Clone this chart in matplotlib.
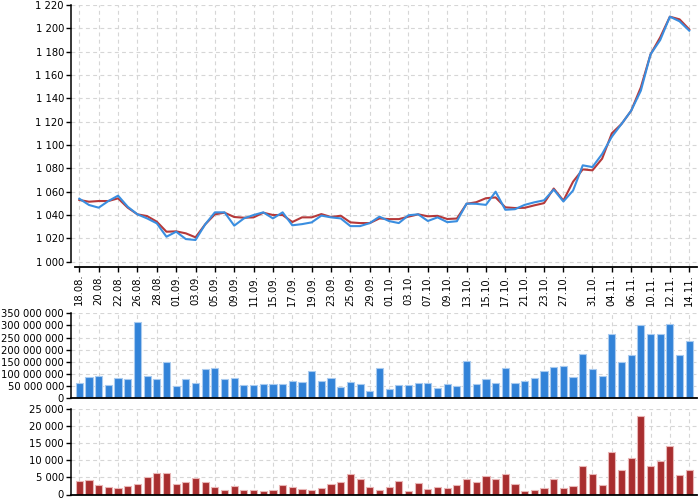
import numpy as np
import matplotlib
matplotlib.use("Agg")
import matplotlib.pyplot as plt
from matplotlib.ticker import FuncFormatter

# Trading days shown on the chart (one day between 27.10 and 31.10 is absent).
dates = [
    "18.08.", "19.08.", "20.08.", "21.08.", "22.08.", "25.08.", "26.08.", "27.08.", "28.08.", "29.08.",
    "01.09.", "02.09.", "03.09.", "04.09.", "05.09.", "08.09.", "09.09.", "10.09.", "11.09.", "12.09.",
    "15.09.", "16.09.", "17.09.", "18.09.", "19.09.", "22.09.", "23.09.", "24.09.", "25.09.", "26.09.",
    "29.09.", "30.09.", "01.10.", "02.10.", "03.10.", "06.10.", "07.10.", "08.10.", "09.10.", "10.10.",
    "13.10.", "14.10.", "15.10.", "16.10.", "17.10.", "20.10.", "21.10.", "22.10.", "23.10.", "24.10.",
    "27.10.", "28.10.", "30.10.", "31.10.", "03.11.", "04.11.", "05.11.", "06.11.", "07.11.", "10.11.",
    "11.11.", "12.11.", "13.11.", "14.11."
]

tickLabels = [
    "18.08.", "20.08.", "22.08.", "26.08.", "28.08.", "01.09.", "03.09.", "05.09.", "09.09.", "11.09.",
    "15.09.", "17.09.", "19.09.", "23.09.", "25.09.", "29.09.", "01.10.", "03.10.", "07.10.", "09.10.",
    "13.10.", "15.10.", "17.10.", "21.10.", "23.10.", "27.10.", "31.10.", "04.11.", "06.11.", "10.11.",
    "12.11.", "14.11."
]

# Blue line.
priceBlue = [
    1054.0, 1048.6, 1046.3, 1052.0, 1056.6, 1047.1, 1040.6, 1037.1, 1032.9, 1021.4,
    1025.7, 1019.4, 1018.6, 1032.0, 1042.3, 1042.3, 1030.9, 1037.1, 1040.0, 1042.3,
    1037.1, 1042.3, 1031.2, 1032.2, 1033.7, 1039.5, 1038.0, 1037.1, 1030.5, 1030.5,
    1033.1, 1038.6, 1034.8, 1033.1, 1039.8, 1040.6, 1034.9, 1038.0, 1033.9, 1034.7,
    1049.8, 1049.6, 1048.7, 1060.0, 1044.5, 1045.0, 1048.7, 1050.9, 1052.6, 1061.8,
    1051.6, 1061.0, 1082.6, 1081.1, 1092.3, 1107.1, 1118.0, 1129.4, 1146.6, 1177.7,
    1190.0, 1210.0, 1206.0, 1198.0
]

# Red line.
priceRed = [
    1052.9, 1051.4, 1052.0, 1052.0, 1054.3, 1046.3, 1040.6, 1039.1, 1034.3, 1025.7,
    1026.0, 1024.3, 1020.9, 1032.0, 1040.6, 1042.0, 1038.3, 1037.7, 1038.0, 1042.0,
    1040.0, 1040.0, 1034.0, 1038.0, 1038.0, 1040.8, 1038.3, 1039.4, 1033.7, 1033.1,
    1033.1, 1037.1, 1036.5, 1036.5, 1038.6, 1040.6, 1038.9, 1039.3, 1036.6, 1037.0,
    1049.6, 1051.0, 1054.4, 1055.1, 1046.6, 1046.0, 1046.2, 1048.3, 1050.2, 1062.7,
    1052.4, 1068.6, 1079.1, 1078.3, 1088.3, 1110.0, 1118.0, 1129.4, 1149.4, 1177.7,
    1192.3, 1210.0, 1207.7, 1199.1
]

# Middle panel, millions.
volumeBlue = [
    60.9, 87.2, 89.9, 52.6, 83.0, 77.5, 312.6, 91.3, 80.2, 149.4,
    48.4, 77.5, 60.9, 121.7, 124.5, 80.2, 81.6, 52.6, 54.0, 56.7,
    59.5, 59.5, 69.2, 66.4, 113.4, 69.2, 81.6, 47.5, 65.0, 58.1,
    30.4, 123.1, 37.4, 52.6, 52.6, 63.6, 62.3, 41.5, 59.5, 48.4,
    152.2, 56.7, 77.5, 62.3, 124.5, 63.6, 70.6, 83.0, 110.7, 127.3,
    134.2, 85.8, 181.2, 119.0, 89.9, 265.6, 149.4, 175.7, 301.6, 264.2,
    264.2, 304.3, 175.7, 236.6
]

# Bottom panel.
volumeRed = [
    4036, 4331, 2658, 2165, 1969, 2362, 3150, 5020, 6201, 6201,
    3150, 3543, 4725, 3543, 2067, 1378, 2559, 1181, 1181, 1083,
    1181, 2854, 2067, 1673, 1181, 1969, 2953, 3642, 6103, 4429,
    2264, 1378, 2264, 4036, 1083, 3445, 1476, 2067, 1969, 2756,
    4528, 3740, 5512, 4429, 6004, 2953, 1083, 1378, 1969, 4626,
    1870, 2362, 8367, 6004, 2658, 12500, 7185, 10729, 22934, 8268,
    9941, 14371, 5610, 7185
]

W, H = 700, 500


def PixelRect(left, top, right, bottom):
    return [left/W, 1 - bottom/H, (right - left)/W, (bottom - top)/H]


def SpaceThousands(value, position):
    return f"{value:,.0f}".replace(",", " ")


def StyleAxes(axes):
    axes.spines["top"].set_visible(False)
    axes.spines["right"].set_visible(False)
    axes.spines["left"].set_linewidth(1.1)
    axes.spines["bottom"].set_linewidth(1.3)
    axes.tick_params(axis="y", length=3.6, width=1.0, labelsize=7.2, pad=1.5)
    axes.grid(True, color="#d6d6d6", linestyle=(0, (3.5, 3)), linewidth=0.8)
    axes.set_axisbelow(True)
    axes.yaxis.set_major_formatter(FuncFormatter(SpaceThousands))


plt.rcParams["font.family"] = ["DejaVu Sans"]

x = np.arange(len(dates))
tickPositions = [dates.index(label) for label in tickLabels]
xLimits = (-0.86, len(dates) - 1 + 0.8)

figure = plt.figure(figsize=(7, 5), dpi=100)

# Price lines.
axesTop = figure.add_axes(PixelRect(71, 5, 697, 266.7))
StyleAxes(axesTop)
axesTop.plot(x, priceRed, color="#b5393a", linewidth=1.5)
axesTop.plot(x, priceBlue, color="#3a8ee0", linewidth=1.5)
axesTop.set_xlim(xLimits)
axesTop.set_ylim(1000 - 5/1.1668, 1220)
axesTop.set_yticks(np.arange(1000, 1221, 20))
axesTop.spines["left"].set_bounds(1000, 1220)
axesTop.spines["bottom"].set_bounds(-0.45, xLimits[1])
axesTop.set_xticks(tickPositions)
axesTop.set_xticklabels(tickLabels, rotation=90)
axesTop.tick_params(axis="x", length=3.6, width=1.0, labelsize=7.2, pad=1.5)

# Blue volume bars.
axesMiddle = figure.add_axes(PixelRect(71, 313.3, 697, 398))
StyleAxes(axesMiddle)
axesMiddle.bar(x, np.array(volumeBlue)*1e6, width=0.74, color="#3283d8", edgecolor="#a9cbef", linewidth=0.8)
axesMiddle.set_xlim(xLimits)
axesMiddle.set_ylim(0, 350e6)
axesMiddle.set_yticks(np.arange(0, 350e6 + 1, 50e6))
axesMiddle.set_xticks(tickPositions)
axesMiddle.tick_params(axis="x", length=0, labelbottom=False)

# Red volume bars.
axesBottom = figure.add_axes(PixelRect(71, 409.3, 697, 494.5))
StyleAxes(axesBottom)
axesBottom.bar(x, volumeRed, width=0.74, color="#a82e2f", edgecolor="#e9b7b7", linewidth=0.8)
axesBottom.set_xlim(xLimits)
axesBottom.set_ylim(0, 25000)
axesBottom.set_yticks(np.arange(0, 25001, 5000))
axesBottom.set_xticks(tickPositions)
axesBottom.tick_params(axis="x", length=0, labelbottom=False)

figure.savefig("out.png", dpi=100)
